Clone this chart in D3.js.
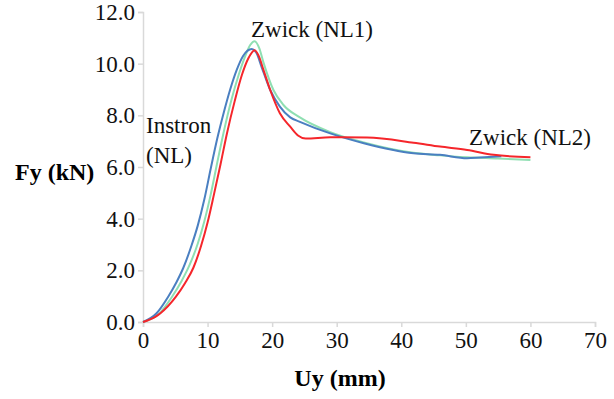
<!DOCTYPE html>
<html>
<head>
<meta charset="utf-8">
<script src="https://cdn.jsdelivr.net/npm/d3@7"></script>
<style>
  body { margin: 0; background: #fff; }
</style>
</head>
<body>
<div id="chart"></div>
<script>
const FONT = "'Liberation Serif', 'Times New Roman', Tinos, FreeSerif";

// x ticks and y ticks of the chart
const xTicks = [0, 10, 20, 30, 40, 50, 60, 70];
const yTicks = [0, 2, 4, 6, 8, 10, 12];

// Uy (mm), Fy (kN)
const instronNL = [
  [0, 0], [2.1, 0.34], [3.9, 0.98], [5.2, 1.55], [6.25, 2.1], [7.5, 2.95],
  [8.5, 3.75], [9.5, 4.75], [10.5, 5.95], [11.5, 7.1], [12.5, 8.1],
  [13.5, 9.0], [14.5, 9.75], [15.5, 10.3], [16.85, 10.57], [17.6, 10.4],
  [18.4, 9.85], [19.7, 8.98], [21.2, 8.34], [22.8, 7.92], [24.3, 7.75],
  [29, 7.3], [34.2, 6.92], [41.9, 6.53], [46, 6.47], [50.2, 6.34],
  [52.2, 6.37], [55.5, 6.42]
];
const zwickNL1 = [
  [0, 0], [2.4, 0.3], [4.5, 0.98], [6, 1.6], [7.2, 2.2], [8.5, 3.05],
  [9.5, 3.9], [10.5, 4.95], [11.4, 6.05], [12.45, 7.3], [13.75, 8.65],
  [14.8, 9.55], [15.8, 10.27], [16.6, 10.72], [17.3, 10.87], [18.0, 10.6],
  [18.65, 10.05], [20.2, 8.98], [21.75, 8.4], [24.3, 7.92], [29, 7.35],
  [34.2, 6.95], [41.9, 6.55], [46, 6.45], [50.2, 6.38], [55, 6.33], [60, 6.27]
];
const zwickNL2 = [
  [0, 0], [1.9, 0.2], [2.7, 0.34], [5.1, 0.98], [6.5, 1.5], [7.8, 2.1],
  [9.0, 2.95], [10.0, 3.85], [11.0, 4.95], [12.0, 6.1], [13.0, 7.3],
  [14.2, 8.55], [15.3, 9.55], [16.3, 10.2], [17.3, 10.52], [18.0, 10.25],
  [18.6, 9.8], [19.7, 8.98], [21.2, 8.08], [22.8, 7.56], [24.0, 7.22],
  [25.2, 7.1], [29, 7.15], [34.7, 7.14], [41.9, 6.94], [46, 6.79],
  [50.2, 6.66], [54.3, 6.47], [60, 6.38]
];

const width = 614, height = 399;
const margin = { top: 12, right: 19, bottom: 77, left: 143 };

const svg = d3.select("#chart").append("svg")
  .attr("width", width)
  .attr("height", height);

const x = d3.scaleLinear().domain([0, 70]).range([margin.left, width - margin.right]);
const y = d3.scaleLinear().domain([0, 12]).range([height - margin.bottom, margin.top]);

// axes
const xAxis = svg.append("g")
  .attr("transform", "translate(0," + y(0) + ")")
  .call(d3.axisBottom(x).tickValues(xTicks).tickSize(5).tickPadding(5).tickFormat(d3.format("d")));
const yAxis = svg.append("g")
  .attr("transform", "translate(" + x(0) + ",0)")
  .call(d3.axisLeft(y).tickValues(yTicks).tickSize(5).tickPadding(3).tickFormat(d3.format(".1f")));

[xAxis, yAxis].forEach(g => {
  g.attr("font-family", null).attr("font-size", null);
  g.selectAll("path, line").attr("stroke", "#d9d9d9").attr("stroke-width", 1.5);
  g.selectAll("text")
    .attr("fill", "#111")
    .style("font-size", "23px")
    .style("font-family", FONT);
});

// curves
const line = d3.line()
  .x(d => x(d[0]))
  .y(d => y(d[1]))
  .curve(d3.curveMonotoneX);

const series = [
  { data: zwickNL1, color: "#8fdfb2" },
  { data: instronNL, color: "#4a7fc1" },
  { data: zwickNL2, color: "#f5262b" }
];

svg.selectAll(".curve")
  .data(series)
  .enter()
  .append("path")
  .attr("class", "curve")
  .attr("d", d => line(d.data))
  .attr("fill", "none")
  .attr("stroke", d => d.color)
  .attr("stroke-width", 2);

// axis titles
svg.append("text")
  .attr("x", 340)
  .attr("y", 386)
  .attr("text-anchor", "middle")
  .style("font-family", FONT)
  .style("font-weight", "bold")
  .style("font-size", "24px")
  .text("Uy (mm)");

svg.append("text")
  .attr("x", 15)
  .attr("y", 180)
  .style("font-family", FONT)
  .style("font-weight", "bold")
  .style("font-size", "24px")
  .text("Fy (kN)");

// annotations
const notes = [
  { t: "Zwick (NL1)", x: 251, y: 37 },
  { t: "Instron", x: 146, y: 133 },
  { t: "(NL)", x: 146, y: 163 },
  { t: "Zwick (NL2)", x: 469, y: 145 }
];
svg.selectAll(".note")
  .data(notes)
  .enter()
  .append("text")
  .attr("class", "note")
  .attr("x", d => d.x)
  .attr("y", d => d.y)
  .style("font-family", FONT)
  .style("font-size", "23px")
  .attr("fill", "#111")
  .text(d => d.t);
</script>
</body>
</html>
